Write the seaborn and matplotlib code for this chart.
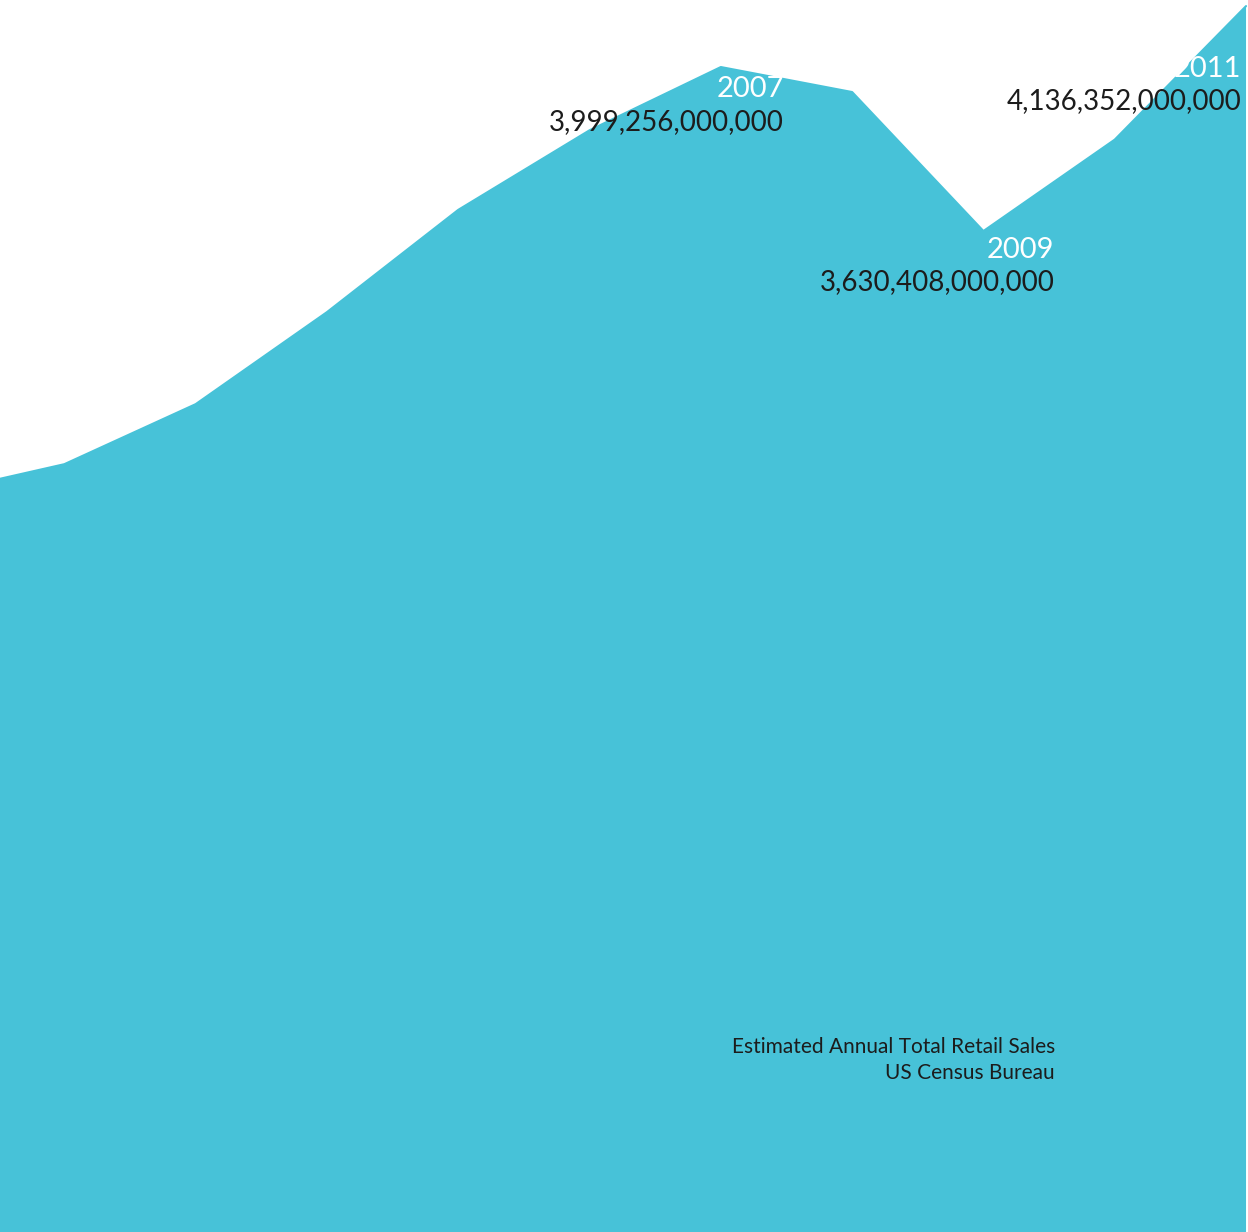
import matplotlib
matplotlib.use("Agg")
import matplotlib.pyplot as plt
import seaborn as sns
import pandas as pd

# Estimated annual total retail sales, billions of US dollars
years = [2001, 2002, 2003, 2004, 2005, 2006, 2007, 2008, 2009, 2010, 2011]
sales_bn = [3039, 3106, 3241, 3448, 3678, 3857, 3999.256, 3943, 3630.408, 3836, 4136.352]

# Highlighted years with their full dollar values
label_years = [2007, 2009, 2011]
label_values = ["3,999,256,000,000", "3,630,408,000,000", "4,136,352,000,000"]

caption_lines = ["Estimated Annual Total Retail Sales", "US Census Bureau"]

FILL = "#47C2D8"
INK = "#1c1c1c"

sns.set_theme(style="white")
plt.rcParams["font.family"] = ["Lato", "DejaVu Sans"]

df = pd.DataFrame({"year": years, "sales": sales_bn})

fig = plt.figure(figsize=(12.48, 12.32), dpi=100)
ax = fig.add_axes([0, 0, 1, 1])

sns.lineplot(data=df, x="year", y="sales", ax=ax, color=FILL, linewidth=1.5,
             solid_joinstyle="round")
ax.fill_between(df["year"], df["sales"], 0, color=FILL, linewidth=0)

ax.set_xlim(2001.51, 2011.015)
ax.set_ylim(1379, 4150)
ax.set_axis_off()

# (dx, dy) in pixels for the year and the value label, relative to the point
offsets = {
    2007: ((63, -30), (63, -63)),
    2009: ((71, -27), (71, -59)),
    2011: ((-5, -71), (-5, -103)),
}
lookup = dict(zip(years, sales_bn))
for yr, txt in zip(label_years, label_values):
    (ydx, ydy), (vdx, vdy) = offsets[yr]
    ax.annotate(str(yr), xy=(yr, lookup[yr]), xytext=(ydx, ydy),
                textcoords="offset pixels", ha="right", va="baseline",
                fontsize=21, color="white", fontweight="normal")
    ax.annotate(txt, xy=(yr, lookup[yr]), xytext=(vdx, vdy),
                textcoords="offset pixels", ha="right", va="baseline",
                fontsize=20, color=INK, fontweight="normal")

ax.text(0.8454, 0.1453, caption_lines[0], transform=ax.transAxes,
        ha="right", va="baseline", fontsize=15, color=INK, fontweight="normal")
ax.text(0.8454, 0.1242, caption_lines[1], transform=ax.transAxes,
        ha="right", va="baseline", fontsize=15, color=INK, fontweight="normal")

fig.savefig("out.png", dpi=100, facecolor="white")
